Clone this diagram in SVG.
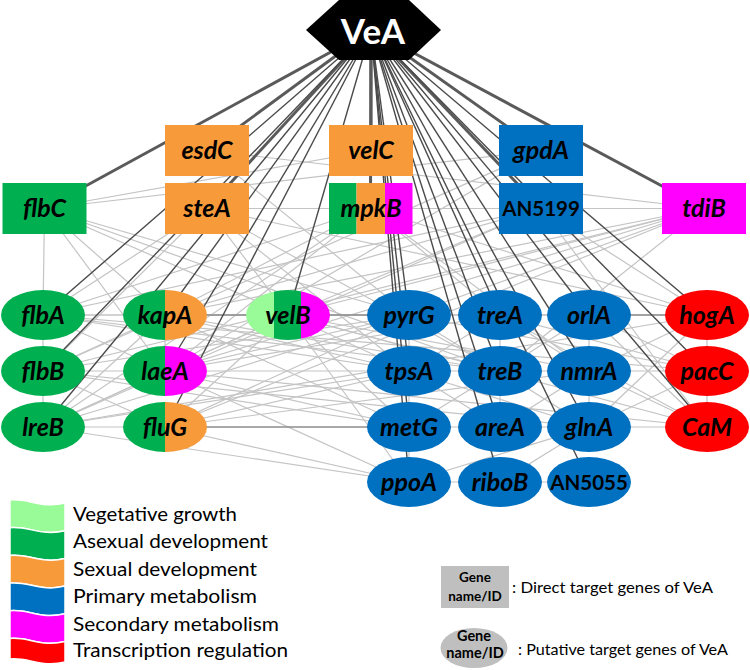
<svg xmlns="http://www.w3.org/2000/svg" width="750" height="670" viewBox="0 0 750 670">
<style>
.lt{stroke:#c4c4c4;stroke-width:1.2;fill:none}
.md{stroke:#8c8c8c;stroke-width:1.6;fill:none}
.dk{stroke:#4a4a4a;stroke-width:1.4;fill:none}
.th{stroke:#5a5a5a;stroke-width:3;fill:none}
.lbl{font-family:Lato,"Liberation Sans",sans-serif;font-weight:bold;font-style:italic;font-size:25px;fill:#000;text-anchor:middle}
.id{font-family:Lato,"Liberation Sans",sans-serif;font-weight:bold;font-size:20.5px;fill:#000;text-anchor:middle}
.leg{font-family:Lato,"Liberation Sans",sans-serif;font-size:20px;fill:#000}
.key{font-family:Lato,"Liberation Sans",sans-serif;font-size:16px;fill:#000}
.kb{font-family:Lato,"Liberation Sans",sans-serif;font-weight:bold;fill:#000;text-anchor:middle}
.g{fill:#00B050}.o{fill:#F79A3A}.b{fill:#0070C0}.m{fill:#FF00FF}.r{fill:#FF0000}.lg{fill:#98FB98}
</style>
<defs>
<clipPath id="cvelB"><ellipse cx="288" cy="315" rx="42" ry="25"/></clipPath>
</defs>
<g id="connectors">
<g id="light-edges">
<line class="lt" x1="44.5" y1="208.5" x2="43" y2="315"/>
<line class="lt" x1="43" y1="315" x2="43" y2="371"/>
<line class="lt" x1="43" y1="371" x2="43" y2="427"/>
<line class="lt" x1="44.5" y1="208.5" x2="165" y2="315"/>
<line class="lt" x1="44.5" y1="208.5" x2="165" y2="371"/>
<line class="lt" x1="44.5" y1="208.5" x2="288" y2="315"/>
<line class="lt" x1="44.5" y1="208.5" x2="409" y2="315"/>
<line class="lt" x1="44.5" y1="208.5" x2="500" y2="371"/>
<line class="lt" x1="44.5" y1="208.5" x2="371" y2="150.5"/>
<line class="lt" x1="44.5" y1="208.5" x2="541" y2="150.5"/>
<line class="lt" x1="207" y1="208.5" x2="370.5" y2="208.5"/>
<line class="lt" x1="207" y1="208.5" x2="43" y2="315"/>
<line class="lt" x1="207" y1="208.5" x2="43" y2="371"/>
<line class="lt" x1="207" y1="208.5" x2="288" y2="315"/>
<line class="lt" x1="207" y1="208.5" x2="409" y2="371"/>
<line class="lt" x1="207" y1="208.5" x2="500" y2="371"/>
<line class="lt" x1="207" y1="208.5" x2="707" y2="315"/>
<line class="lt" x1="207" y1="150.5" x2="409" y2="315"/>
<line class="lt" x1="207" y1="150.5" x2="704" y2="208.5"/>
<line class="lt" x1="370.5" y1="208.5" x2="43" y2="315"/>
<line class="lt" x1="370.5" y1="208.5" x2="165" y2="315"/>
<line class="lt" x1="370.5" y1="208.5" x2="165" y2="371"/>
<line class="lt" x1="370.5" y1="208.5" x2="43" y2="427"/>
<line class="lt" x1="370.5" y1="208.5" x2="707" y2="315"/>
<line class="lt" x1="370.5" y1="208.5" x2="589" y2="371"/>
<line class="lt" x1="370.5" y1="208.5" x2="500" y2="315"/>
<line class="lt" x1="370.5" y1="208.5" x2="541" y2="208.5"/>
<line class="lt" x1="541" y1="150.5" x2="165" y2="371"/>
<line class="lt" x1="541" y1="150.5" x2="43" y2="371"/>
<line class="lt" x1="541" y1="208.5" x2="704" y2="208.5"/>
<line class="lt" x1="541" y1="208.5" x2="165" y2="315"/>
<line class="lt" x1="541" y1="208.5" x2="43" y2="315"/>
<line class="lt" x1="541" y1="208.5" x2="707" y2="315"/>
<line class="lt" x1="541" y1="208.5" x2="288" y2="315"/>
<line class="lt" x1="541" y1="208.5" x2="43" y2="427"/>
<line class="lt" x1="541" y1="208.5" x2="707" y2="427"/>
<line class="lt" x1="704" y1="208.5" x2="165" y2="371"/>
<line class="lt" x1="704" y1="208.5" x2="165" y2="315"/>
<line class="lt" x1="704" y1="208.5" x2="409" y2="315"/>
<line class="lt" x1="704" y1="208.5" x2="288" y2="315"/>
<line class="lt" x1="704" y1="208.5" x2="43" y2="371"/>
<line class="lt" x1="704" y1="208.5" x2="165" y2="427"/>
<line class="lt" x1="704" y1="208.5" x2="500" y2="371"/>
<line class="lt" x1="43" y1="315" x2="165" y2="315"/>
<line class="lt" x1="43" y1="371" x2="165" y2="371"/>
<line class="lt" x1="43" y1="427" x2="165" y2="427"/>
<line class="lt" x1="409" y1="315" x2="500" y2="315"/>
<line class="lt" x1="500" y1="315" x2="589" y2="315"/>
<line class="lt" x1="165" y1="371" x2="409" y2="371"/>
<line class="lt" x1="409" y1="371" x2="500" y2="371"/>
<line class="lt" x1="500" y1="371" x2="589" y2="371"/>
<line class="lt" x1="589" y1="371" x2="707" y2="371"/>
<line class="lt" x1="409" y1="427" x2="500" y2="427"/>
<line class="lt" x1="500" y1="427" x2="589" y2="427"/>
<line class="lt" x1="589" y1="427" x2="707" y2="427"/>
<line class="lt" x1="707" y1="315" x2="707" y2="371"/>
<line class="lt" x1="707" y1="371" x2="707" y2="427"/>
<line class="lt" x1="409" y1="482" x2="500" y2="482"/>
<line class="lt" x1="500" y1="482" x2="589" y2="482"/>
<line class="lt" x1="409" y1="315" x2="409" y2="371"/>
<line class="lt" x1="409" y1="371" x2="409" y2="427"/>
<line class="lt" x1="409" y1="427" x2="409" y2="482"/>
<line class="lt" x1="500" y1="315" x2="500" y2="371"/>
<line class="lt" x1="500" y1="371" x2="500" y2="427"/>
<line class="lt" x1="589" y1="315" x2="589" y2="371"/>
<line class="lt" x1="589" y1="371" x2="589" y2="427"/>
<line class="lt" x1="43" y1="315" x2="165" y2="371"/>
<line class="lt" x1="43" y1="315" x2="409" y2="371"/>
<line class="lt" x1="43" y1="315" x2="500" y2="371"/>
<line class="lt" x1="43" y1="315" x2="707" y2="371"/>
<line class="lt" x1="43" y1="315" x2="589" y2="315"/>
<line class="lt" x1="43" y1="371" x2="165" y2="315"/>
<line class="lt" x1="43" y1="371" x2="165" y2="427"/>
<line class="lt" x1="43" y1="371" x2="409" y2="315"/>
<line class="lt" x1="43" y1="371" x2="409" y2="427"/>
<line class="lt" x1="43" y1="371" x2="589" y2="427"/>
<line class="lt" x1="43" y1="427" x2="165" y2="371"/>
<line class="lt" x1="43" y1="427" x2="165" y2="315"/>
<line class="lt" x1="43" y1="427" x2="288" y2="315"/>
<line class="lt" x1="43" y1="427" x2="409" y2="315"/>
<line class="lt" x1="43" y1="427" x2="409" y2="371"/>
<line class="lt" x1="43" y1="427" x2="707" y2="315"/>
<line class="lt" x1="43" y1="427" x2="409" y2="482"/>
<line class="lt" x1="165" y1="315" x2="165" y2="371"/>
<line class="lt" x1="165" y1="315" x2="409" y2="371"/>
<line class="lt" x1="165" y1="315" x2="500" y2="371"/>
<line class="lt" x1="165" y1="315" x2="707" y2="315"/>
<line class="lt" x1="165" y1="315" x2="409" y2="427"/>
<line class="lt" x1="165" y1="371" x2="288" y2="315"/>
<line class="lt" x1="165" y1="371" x2="409" y2="315"/>
<line class="lt" x1="165" y1="371" x2="409" y2="427"/>
<line class="lt" x1="165" y1="371" x2="409" y2="482"/>
<line class="lt" x1="165" y1="371" x2="707" y2="427"/>
<line class="lt" x1="165" y1="371" x2="500" y2="315"/>
<line class="lt" x1="165" y1="427" x2="288" y2="315"/>
<line class="lt" x1="165" y1="427" x2="409" y2="371"/>
<line class="lt" x1="165" y1="427" x2="409" y2="482"/>
<line class="lt" x1="165" y1="427" x2="409" y2="315"/>
<line class="lt" x1="165" y1="427" x2="589" y2="371"/>
<line class="lt" x1="288" y1="315" x2="409" y2="371"/>
<line class="lt" x1="288" y1="315" x2="409" y2="427"/>
<line class="lt" x1="288" y1="315" x2="409" y2="482"/>
<line class="lt" x1="288" y1="315" x2="707" y2="427"/>
<line class="lt" x1="288" y1="315" x2="589" y2="371"/>
<line class="lt" x1="288" y1="315" x2="500" y2="371"/>
<line class="lt" x1="409" y1="315" x2="707" y2="371"/>
<line class="lt" x1="409" y1="315" x2="500" y2="371"/>
<line class="lt" x1="409" y1="371" x2="500" y2="315"/>
<line class="lt" x1="409" y1="371" x2="500" y2="427"/>
<line class="lt" x1="409" y1="371" x2="589" y2="427"/>
<line class="lt" x1="500" y1="315" x2="589" y2="371"/>
<line class="lt" x1="500" y1="315" x2="707" y2="371"/>
<line class="lt" x1="500" y1="315" x2="707" y2="427"/>
<line class="lt" x1="589" y1="315" x2="707" y2="427"/>
<line class="lt" x1="589" y1="315" x2="707" y2="371"/>
<line class="lt" x1="589" y1="371" x2="707" y2="315"/>
<line class="lt" x1="589" y1="371" x2="707" y2="427"/>
<line class="lt" x1="589" y1="427" x2="707" y2="371"/>
<line class="lt" x1="589" y1="427" x2="707" y2="315"/>
<line class="lt" x1="500" y1="371" x2="589" y2="427"/>
<line class="lt" x1="500" y1="371" x2="589" y2="315"/>
<line class="lt" x1="500" y1="427" x2="589" y2="371"/>
<line class="lt" x1="409" y1="427" x2="500" y2="371"/>
<line class="lt" x1="409" y1="482" x2="589" y2="427"/>
<line class="lt" x1="500" y1="482" x2="589" y2="427"/>
</g>
<g id="medium-edges">
<line class="md" x1="165" y1="315" x2="288" y2="315"/>
<line class="md" x1="288" y1="315" x2="409" y2="315"/>
<line class="md" x1="165" y1="427" x2="409" y2="427"/>
<line class="md" x1="589" y1="315" x2="707" y2="315"/>
</g>
<g id="vea-edges">
<line class="th" x1="371" y1="30" x2="44.5" y2="208.5"/>
<line class="th" x1="371" y1="30" x2="207" y2="150.5"/>
<line class="th" x1="371" y1="30" x2="207" y2="208.5"/>
<line class="th" x1="371" y1="30" x2="371" y2="150.5"/>
<line class="th" x1="371" y1="30" x2="370.5" y2="208.5"/>
<line class="th" x1="371" y1="30" x2="541" y2="150.5"/>
<line class="th" x1="371" y1="30" x2="541" y2="208.5"/>
<line class="th" x1="371" y1="30" x2="704" y2="208.5"/>
<line class="dk" x1="371" y1="30" x2="43" y2="315"/>
<line class="dk" x1="371" y1="30" x2="43" y2="371"/>
<line class="dk" x1="371" y1="30" x2="43" y2="427"/>
<line class="dk" x1="371" y1="30" x2="165" y2="315"/>
<line class="dk" x1="371" y1="30" x2="165" y2="371"/>
<line class="dk" x1="371" y1="30" x2="165" y2="427"/>
<line class="dk" x1="371" y1="30" x2="288" y2="315"/>
<line class="dk" x1="371" y1="30" x2="409" y2="315"/>
<line class="dk" x1="371" y1="30" x2="409" y2="371"/>
<line class="dk" x1="371" y1="30" x2="409" y2="427"/>
<line class="dk" x1="371" y1="30" x2="409" y2="482"/>
<line class="dk" x1="371" y1="30" x2="500" y2="315"/>
<line class="dk" x1="371" y1="30" x2="500" y2="371"/>
<line class="dk" x1="371" y1="30" x2="500" y2="427"/>
<line class="dk" x1="371" y1="30" x2="500" y2="482"/>
<line class="dk" x1="371" y1="30" x2="589" y2="315"/>
<line class="dk" x1="371" y1="30" x2="589" y2="371"/>
<line class="dk" x1="371" y1="30" x2="589" y2="427"/>
<line class="dk" x1="371" y1="30" x2="589" y2="482"/>
<line class="dk" x1="371" y1="30" x2="707" y2="315"/>
<line class="dk" x1="371" y1="30" x2="707" y2="371"/>
<line class="dk" x1="371" y1="30" x2="707" y2="427"/>
</g>
</g>
<g id="VeA">
<polygon points="306,30 339,0 409,0 441,30 409,60 339,60" fill="#000"/>
<text x="373" y="44" font-family="Lato,'Liberation Sans',sans-serif" font-weight="bold" font-size="35" fill="#fff" text-anchor="middle">VeA</text>
</g>
<g id="esdC"><rect x="165" y="125" width="84" height="51" class="o"/><text class="lbl" x="207" y="159">esdC</text></g>
<g id="steA"><rect x="165" y="183" width="84" height="51" class="o"/><text class="lbl" x="207" y="217">steA</text></g>
<g id="flbC"><rect x="2.5" y="183" width="84" height="51" class="g"/><text class="lbl" x="44.5" y="217">flbC</text></g>
<g id="velC"><rect x="329" y="125" width="84" height="51" class="o"/><text class="lbl" x="371" y="159">velC</text></g>
<g id="mpkB"><rect x="329" y="183" width="27.5" height="51" class="g"/><rect x="356.5" y="183" width="28.5" height="51" class="o"/><rect x="385" y="183" width="27.5" height="51" class="m"/><text class="lbl" x="371" y="217">mpkB</text></g>
<g id="gpdA"><rect x="499" y="125" width="84" height="51" class="b"/><text class="lbl" x="541" y="159">gpdA</text></g>
<g id="AN5199"><rect x="499" y="183" width="84" height="51" class="b"/><text class="id" x="541" y="215.5">AN5199</text></g>
<g id="tdiB"><rect x="662" y="183" width="84" height="51" class="m"/><text class="lbl" x="704" y="217">tdiB</text></g>
<g id="flbA"><ellipse cx="43" cy="315" rx="42" ry="25" class="g"/><text class="lbl" x="43" y="323.5">flbA</text></g>
<g id="flbB"><ellipse cx="43" cy="371" rx="42" ry="25" class="g"/><text class="lbl" x="43" y="379.5">flbB</text></g>
<g id="lreB"><ellipse cx="43" cy="427" rx="42" ry="25" class="g"/><text class="lbl" x="43" y="435.5">lreB</text></g>
<g id="kapA"><path d="M165,290 A42,25 0 0 0 165,340 Z" class="g"/><path d="M165,290 A42,25 0 0 1 165,340 Z" class="o"/><text class="lbl" x="165" y="323.5">kapA</text></g>
<g id="laeA"><path d="M165,346 A42,25 0 0 0 165,396 Z" class="g"/><path d="M165,346 A42,25 0 0 1 165,396 Z" class="m"/><text class="lbl" x="165" y="379.5">laeA</text></g>
<g id="fluG"><path d="M165,402 A42,25 0 0 0 165,452 Z" class="g"/><path d="M165,402 A42,25 0 0 1 165,452 Z" class="o"/><text class="lbl" x="165" y="435.5">fluG</text></g>
<g id="velB"><g clip-path="url(#cvelB)"><rect x="245" y="289" width="29" height="52" class="lg"/><rect x="274" y="289" width="27" height="52" class="g"/><rect x="301" y="289" width="30" height="52" class="m"/></g><text class="lbl" x="288" y="323.5">velB</text></g>
<g id="pyrG"><ellipse cx="409" cy="315" rx="42" ry="25" class="b"/><text class="lbl" x="409" y="323.5">pyrG</text></g>
<g id="tpsA"><ellipse cx="409" cy="371" rx="42" ry="25" class="b"/><text class="lbl" x="409" y="379.5">tpsA</text></g>
<g id="metG"><ellipse cx="409" cy="427" rx="42" ry="25" class="b"/><text class="lbl" x="409" y="435.5">metG</text></g>
<g id="ppoA"><ellipse cx="409" cy="482" rx="42" ry="25" class="b"/><text class="lbl" x="409" y="490.5">ppoA</text></g>
<g id="treA"><ellipse cx="500" cy="315" rx="42" ry="25" class="b"/><text class="lbl" x="500" y="323.5">treA</text></g>
<g id="treB"><ellipse cx="500" cy="371" rx="42" ry="25" class="b"/><text class="lbl" x="500" y="379.5">treB</text></g>
<g id="areA"><ellipse cx="500" cy="427" rx="42" ry="25" class="b"/><text class="lbl" x="500" y="435.5">areA</text></g>
<g id="riboB"><ellipse cx="500" cy="482" rx="42" ry="25" class="b"/><text class="lbl" x="500" y="490.5">riboB</text></g>
<g id="orlA"><ellipse cx="589" cy="315" rx="42" ry="25" class="b"/><text class="lbl" x="589" y="323.5">orlA</text></g>
<g id="nmrA"><ellipse cx="589" cy="371" rx="42" ry="25" class="b"/><text class="lbl" x="589" y="379.5">nmrA</text></g>
<g id="glnA"><ellipse cx="589" cy="427" rx="42" ry="25" class="b"/><text class="lbl" x="589" y="435.5">glnA</text></g>
<g id="AN5055"><ellipse cx="589" cy="482" rx="42" ry="25" class="b"/><text class="id" x="589" y="489.5">AN5055</text></g>
<g id="hogA"><ellipse cx="707" cy="315" rx="42" ry="25" class="r"/><text class="lbl" x="707" y="323.5">hogA</text></g>
<g id="pacC"><ellipse cx="707" cy="371" rx="42" ry="25" class="r"/><text class="lbl" x="707" y="379.5">pacC</text></g>
<g id="CaM"><ellipse cx="707" cy="427" rx="42" ry="25" class="r"/><text class="lbl" x="707" y="435.5">CaM</text></g>
<g id="legend">
<g stroke="#fff" stroke-width="1.5">
<path class="lg" d="M10,500 C28,498 42,509 65,503 L65,530.7 C42,536.7 28,525.7 10,527.7 Z"/>
<path class="g" d="M10,527.7 C28,525.7 42,536.7 65,530.7 L65,558.4 C42,564.4 28,553.4 10,555.4 Z"/>
<path class="o" d="M10,555.4 C28,553.4 42,564.4 65,558.4 L65,586.1 C42,592.1 28,581.1 10,583.1 Z"/>
<path class="b" d="M10,583.1 C28,581.1 42,592.1 65,586.1 L65,613.8 C42,619.8 28,608.8 10,610.8 Z"/>
<path class="m" d="M10,610.8 C28,608.8 42,619.8 65,613.8 L65,641.5 C42,647.5 28,636.5 10,638.5 Z"/>
<path class="r" d="M10,638.5 C28,636.5 42,647.5 65,641.5 L65,662 C42,668 28,657 10,659 Z"/>
</g>
<text class="leg" x="73" y="521" textLength="164" lengthAdjust="spacingAndGlyphs">Vegetative growth</text>
<text class="leg" x="73" y="548" textLength="195" lengthAdjust="spacingAndGlyphs">Asexual development</text>
<text class="leg" x="73" y="576" textLength="184" lengthAdjust="spacingAndGlyphs">Sexual development</text>
<text class="leg" x="73" y="603" textLength="184" lengthAdjust="spacingAndGlyphs">Primary metabolism</text>
<text class="leg" x="73" y="631" textLength="206" lengthAdjust="spacingAndGlyphs">Secondary metabolism</text>
<text class="leg" x="73" y="657" textLength="215" lengthAdjust="spacingAndGlyphs">Transcription regulation</text>
</g>
<g id="key">
<rect x="441" y="566" width="68" height="42" fill="#BFBFBF"/>
<text class="kb" x="475" y="582" font-size="13.5">Gene</text>
<text class="kb" x="475" y="601" font-size="13.5">name/ID</text>
<text class="key" x="512" y="593" textLength="201" lengthAdjust="spacingAndGlyphs">: Direct target genes of VeA</text>
<ellipse cx="474" cy="648" rx="33.5" ry="20" fill="#BFBFBF"/>
<text class="kb" x="474" y="641" font-size="14.5">Gene</text>
<text class="kb" x="475" y="657.5" font-size="14.5">name/ID</text>
<text class="key" x="518" y="655" textLength="210" lengthAdjust="spacingAndGlyphs">: Putative target genes of VeA</text>
</g>
</svg>
